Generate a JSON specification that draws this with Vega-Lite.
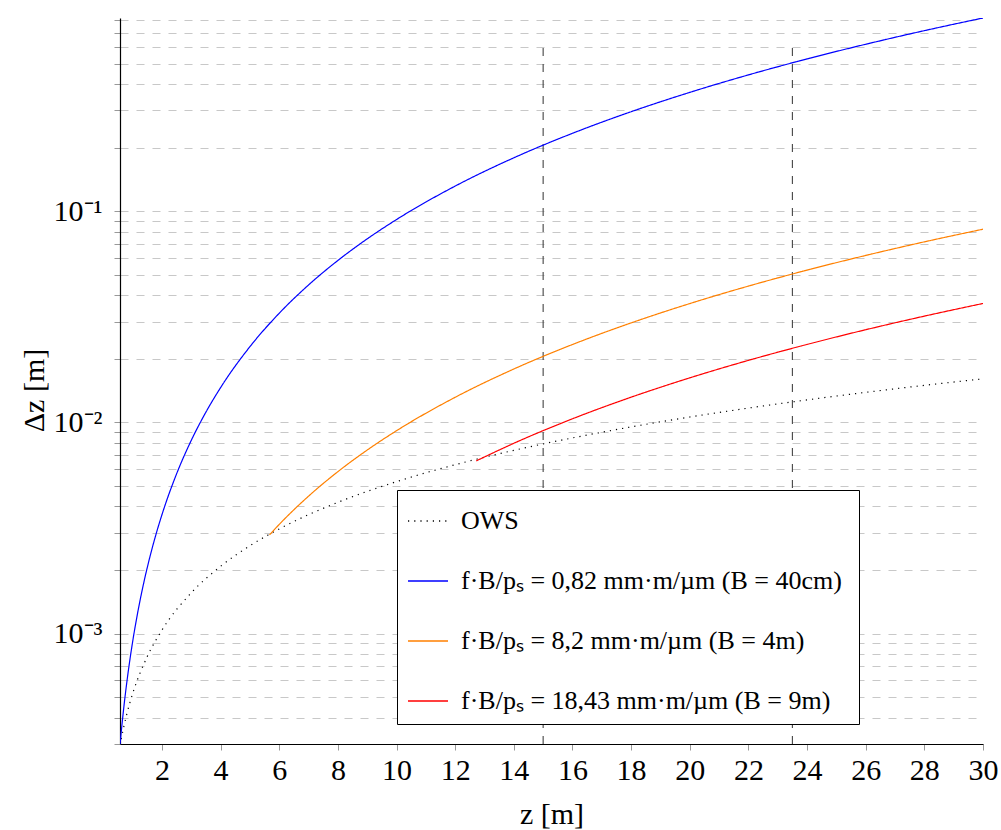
{
  "$schema": "https://vega.github.io/schema/vega-lite/v6.json",
  "width": 863,
  "height": 726,
  "autosize": {"type": "none"},
  "padding": {"left": 120, "top": 18, "right": 18, "bottom": 86},
  "config": {
    "view": {"stroke": null},
    "font": "Liberation Serif",
    "axis": {"labelFont": "Liberation Serif", "titleFont": "Liberation Serif", "labelColor": "black", "titleColor": "black", "titleFontWeight": "normal"},
    "legend": {"labelFont": "Liberation Serif"}
  },
  "datasets": {
    "curves": [
      {"series": "OWS", "z": 0.57, "dz": 0.0002955},
      {"series": "OWS", "z": 0.6, "dz": 0.000311},
      {"series": "OWS", "z": 0.8, "dz": 0.0004148},
      {"series": "OWS", "z": 1, "dz": 0.0005186},
      {"series": "OWS", "z": 1.5, "dz": 0.0007784},
      {"series": "OWS", "z": 2, "dz": 0.0010384},
      {"series": "OWS", "z": 3, "dz": 0.0015594},
      {"series": "OWS", "z": 4, "dz": 0.0020816},
      {"series": "OWS", "z": 5, "dz": 0.002605},
      {"series": "OWS", "z": 6, "dz": 0.0031296},
      {"series": "OWS", "z": 8, "dz": 0.0041824},
      {"series": "OWS", "z": 10, "dz": 0.00524},
      {"series": "OWS", "z": 12, "dz": 0.0063024},
      {"series": "OWS", "z": 14, "dz": 0.0073696},
      {"series": "OWS", "z": 16, "dz": 0.0084416},
      {"series": "OWS", "z": 18, "dz": 0.0095184},
      {"series": "OWS", "z": 20, "dz": 0.0106},
      {"series": "OWS", "z": 22, "dz": 0.011686},
      {"series": "OWS", "z": 24, "dz": 0.012778},
      {"series": "OWS", "z": 26, "dz": 0.013874},
      {"series": "OWS", "z": 28, "dz": 0.014974},
      {"series": "OWS", "z": 30, "dz": 0.01608},
      {"series": "B40", "z": 0.57, "dz": 0.0002966},
      {"series": "B40", "z": 0.6, "dz": 0.0003287},
      {"series": "B40", "z": 0.65, "dz": 0.0003857},
      {"series": "B40", "z": 0.7, "dz": 0.0004474},
      {"series": "B40", "z": 0.8, "dz": 0.0005843},
      {"series": "B40", "z": 0.9, "dz": 0.0007395},
      {"series": "B40", "z": 1, "dz": 0.000913},
      {"series": "B40", "z": 1.2, "dz": 0.0013147},
      {"series": "B40", "z": 1.4, "dz": 0.0017895},
      {"series": "B40", "z": 1.6, "dz": 0.0023373},
      {"series": "B40", "z": 1.8, "dz": 0.0029581},
      {"series": "B40", "z": 2, "dz": 0.003652},
      {"series": "B40", "z": 2.5, "dz": 0.005706},
      {"series": "B40", "z": 3, "dz": 0.008217},
      {"series": "B40", "z": 3.5, "dz": 0.011184},
      {"series": "B40", "z": 4, "dz": 0.014608},
      {"series": "B40", "z": 5, "dz": 0.022825},
      {"series": "B40", "z": 6, "dz": 0.032868},
      {"series": "B40", "z": 7, "dz": 0.044737},
      {"series": "B40", "z": 8, "dz": 0.058432},
      {"series": "B40", "z": 9, "dz": 0.073953},
      {"series": "B40", "z": 10, "dz": 0.0913},
      {"series": "B40", "z": 12, "dz": 0.13147},
      {"series": "B40", "z": 14, "dz": 0.17895},
      {"series": "B40", "z": 16, "dz": 0.23373},
      {"series": "B40", "z": 18, "dz": 0.29581},
      {"series": "B40", "z": 20, "dz": 0.3652},
      {"series": "B40", "z": 22, "dz": 0.44189},
      {"series": "B40", "z": 24, "dz": 0.52589},
      {"series": "B40", "z": 26, "dz": 0.61719},
      {"series": "B40", "z": 28, "dz": 0.71579},
      {"series": "B40", "z": 30, "dz": 0.8217},
      {"series": "B4", "z": 5.67, "dz": 0.0029352},
      {"series": "B4", "z": 6, "dz": 0.0032868},
      {"series": "B4", "z": 7, "dz": 0.0044737},
      {"series": "B4", "z": 8, "dz": 0.0058432},
      {"series": "B4", "z": 9, "dz": 0.0073953},
      {"series": "B4", "z": 10, "dz": 0.00913},
      {"series": "B4", "z": 12, "dz": 0.013147},
      {"series": "B4", "z": 14, "dz": 0.017895},
      {"series": "B4", "z": 16, "dz": 0.023373},
      {"series": "B4", "z": 18, "dz": 0.029581},
      {"series": "B4", "z": 20, "dz": 0.03652},
      {"series": "B4", "z": 22, "dz": 0.044189},
      {"series": "B4", "z": 24, "dz": 0.052589},
      {"series": "B4", "z": 26, "dz": 0.061719},
      {"series": "B4", "z": 28, "dz": 0.071579},
      {"series": "B4", "z": 30, "dz": 0.08217},
      {"series": "B9", "z": 12.72, "dz": 0.0065723},
      {"series": "B9", "z": 14, "dz": 0.0079615},
      {"series": "B9", "z": 16, "dz": 0.010399},
      {"series": "B9", "z": 18, "dz": 0.013161},
      {"series": "B9", "z": 20, "dz": 0.016248},
      {"series": "B9", "z": 22, "dz": 0.01966},
      {"series": "B9", "z": 24, "dz": 0.023397},
      {"series": "B9", "z": 26, "dz": 0.027459},
      {"series": "B9", "z": 28, "dz": 0.031846},
      {"series": "B9", "z": 30, "dz": 0.036558}
    ],
    "vlines": [
      {"z": 15, "lo": 0.0003, "hi": 0.6},
      {"z": 23.5, "lo": 0.0003, "hi": 0.6}
    ]
  },
  "layer": [
    {
      "data": {"name": "vlines"},
      "mark": {"type": "rule", "color": "#444444", "strokeWidth": 1.1, "strokeDash": [8, 8]},
      "encoding": {
        "x": {"field": "z", "type": "quantitative"},
        "y": {"field": "lo", "type": "quantitative"},
        "y2": {"field": "hi"}
      }
    },
    {
      "data": {"name": "curves"},
      "mark": {"type": "line", "interpolate": "monotone", "strokeWidth": 1.2, "clip": true},
      "encoding": {
        "x": {
          "field": "z", "type": "quantitative",
          "scale": {"domain": [0.57, 30], "nice": false, "zero": false},
          "axis": {
            "title": "z [m]", "titleFontSize": 30, "titlePadding": 14,
            "values": [2, 4, 6, 8, 10, 12, 14, 16, 18, 20, 22, 24, 26, 28, 30],
            "labelFontSize": 30, "labelPadding": 5,
            "grid": false, "domainColor": "black", "domainWidth": 1.2,
            "tickColor": "#999999", "tickSize": 6, "labelFlush": false
          }
        },
        "y": {
          "field": "dz", "type": "quantitative",
          "scale": {"type": "log", "domain": [0.0003, 0.8217], "nice": false, "zero": false},
          "axis": {
            "title": "Δz [m]", "titleFontSize": 30, "titleY": 372,
            "values": [0.0003, 0.0004, 0.0005, 0.0006, 0.0007, 0.0008, 0.0009, 0.001, 0.002, 0.003, 0.004, 0.005, 0.006, 0.007, 0.008, 0.009, 0.01, 0.02, 0.03, 0.04, 0.05, 0.06, 0.07, 0.08, 0.09, 0.1, 0.2, 0.3, 0.4, 0.5, 0.6, 0.7, 0.8],
            "labelExpr": "abs(datum.value-0.1)<1e-9 ? '10⁻¹' : abs(datum.value-0.01)<1e-10 ? '10⁻²' : abs(datum.value-0.001)<1e-11 ? '10⁻³' : ''",
            "labelFontSize": 30, "labelPadding": 12,
            "grid": true, "gridColor": "#c8c8c8", "gridDash": [8, 8], "gridWidth": 1.1,
            "domainColor": "black", "domainWidth": 1.2,
            "tickColor": "#999999", "tickSize": 6
          }
        },
        "color": {
          "field": "series", "type": "nominal",
          "scale": {"domain": ["OWS", "B40", "B4", "B9"], "range": ["#000000", "#0000ff", "#ff8000", "#ff0000"]},
          "legend": {
            "title": null, "orient": "none", "legendX": 277, "legendY": 472,
            "labelExpr": "datum.label == 'OWS' ? 'OWS' : datum.label == 'B40' ? 'f·B/pₛ = 0,82 mm·m/µm  (B = 40cm)' : datum.label == 'B4' ? 'f·B/pₛ = 8,2 mm·m/µm  (B = 4m)' : 'f·B/pₛ = 18,43 mm·m/µm  (B = 9m)'",
            "labelFontSize": 26, "labelColor": "black", "labelLimit": 500, "labelOffset": 12,
            "symbolType": "stroke", "symbolSize": 1600, "symbolStrokeWidth": 1.3,
            "rowPadding": 26, "padding": 10,
            "strokeColor": "black", "fillColor": "white"
          }
        },
        "strokeDash": {
          "field": "series", "type": "nominal",
          "scale": {"domain": ["OWS", "B40", "B4", "B9"], "range": [[1.2, 5], [1, 0], [1, 0], [1, 0]]},
          "legend": null
        }
      }
    },
    {
      "mark": {"type": "point", "shape": "triangle-right", "filled": true, "color": "black", "size": 40, "opacity": 1},
      "encoding": {"x": {"datum": 30}, "y": {"datum": 0.0003}}
    },
    {
      "mark": {"type": "point", "shape": "triangle-up", "filled": true, "color": "black", "size": 40, "opacity": 1},
      "encoding": {"x": {"datum": 0.57}, "y": {"datum": 0.8217}}
    }
  ]
}
